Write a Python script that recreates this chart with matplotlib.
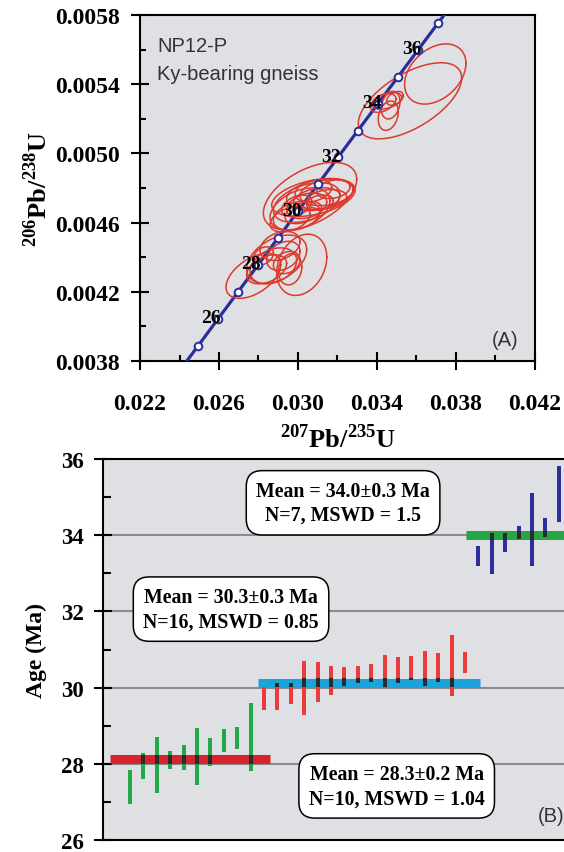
import numpy as np
import matplotlib
matplotlib.use("Agg")
import matplotlib.pyplot as plt
from matplotlib.ticker import FixedLocator

plt.rcParams['mathtext.fontset'] = 'custom'
plt.rcParams['mathtext.rm'] = 'Liberation Serif'
plt.rcParams['mathtext.bf'] = 'Liberation Serif:bold'

SERIF = 'Liberation Serif'
SANS = 'Liberation Sans'

# ---------------- Data: panel A (concordia) ----------------
concordia_marker_ages = [25, 26, 27, 28, 29, 30, 31, 32, 33, 34, 35, 36, 37]
concordia_label_ages = [26, 28, 30, 32, 34, 36]
LAMBDA_238 = 1.55125e-10
LAMBDA_235 = 9.8485e-10

xA_major = [0.022, 0.026, 0.030, 0.034, 0.038, 0.042]
xA_minor = [0.024, 0.028, 0.032, 0.036, 0.040]
yA_major = [0.0038, 0.0042, 0.0046, 0.0050, 0.0054, 0.0058]
yA_minor = [0.0040, 0.0044, 0.0048, 0.0052, 0.0056]

# ellipses: centre (207/235, 206/238), half-extent in x and y, correlation
ell_x = [0.03567, 0.03695, 0.03449, 0.03469, 0.03457, 0.03432, 0.03491,
         0.03061, 0.03078, 0.03111, 0.03044, 0.03010, 0.03145, 0.02993, 0.03095,
         0.03044, 0.02960, 0.03145, 0.03078, 0.03027, 0.03179, 0.02993, 0.03111,
         0.03019, 0.02774, 0.02892, 0.02875, 0.02926, 0.02943, 0.02841, 0.02825,
         0.02909, 0.02960]
ell_y = [0.005304, 0.005459, 0.005304, 0.005279, 0.005218, 0.005291, 0.005318,
         0.004753, 0.004745, 0.004764, 0.004716, 0.004678, 0.004774, 0.004639, 0.004735,
         0.004697, 0.004620, 0.004735, 0.004784, 0.004658, 0.004793, 0.004697, 0.004716,
         0.004356, 0.004292, 0.004388, 0.004350, 0.004408, 0.004369, 0.004330, 0.004408,
         0.004465, 0.004330]
ell_sx = [0.002616, 0.001553, 0.000760, 0.000473, 0.000506, 0.000641, 0.000422,
          0.002363, 0.002110, 0.001688, 0.001688, 0.001519, 0.001350, 0.001181, 0.001181,
          0.001013, 0.001013, 0.001013, 0.000928, 0.000928, 0.000844, 0.000760, 0.000675,
          0.001266, 0.001384, 0.001519, 0.001181, 0.000844, 0.000675, 0.001013, 0.000506,
          0.001013, 0.000591]
ell_sy = [0.000220, 0.000174, 0.0000480, 0.0000800, 0.000085, 0.0000540, 0.0000400,
          0.000195, 0.000110, 0.0000880, 0.000115, 0.000122, 0.0000760, 0.0000840, 0.0000660,
          0.0000740, 0.0000740, 0.0000560, 0.0000640, 0.0000640, 0.0000540, 0.0000620, 0.0000440,
          0.000177, 0.000130, 0.000140, 0.000104, 0.0000840, 0.0000640, 0.0000840, 0.0000520,
          0.0000840, 0.0000900]
ell_rho = [0.6, 0.35, 0.4, 0.25, 0.25, 0.45, 0.4,
           0.5, 0.4, 0.3, 0.4, 0.4, 0.25, 0.3, 0.3,
           0.3, 0.4, 0.25, 0.3, 0.4, 0.25, 0.4, 0.25,
           0.25, 0.5, 0.4, 0.3, 0.3, 0.25, 0.4, 0.3,
           0.3, 0.15]

# ---------------- Data: panel B (weighted mean ages) ----------------
green_lo = [26.94, 27.59, 27.24, 27.86, 27.84, 27.44, 27.94, 28.31, 28.38, 27.80]
green_hi = [27.84, 28.29, 28.71, 28.34, 28.49, 28.95, 28.68, 28.91, 28.97, 29.59]
red_lo = [29.42, 29.42, 29.56, 29.27, 29.63, 29.81, 30.05, 30.11, 30.15, 29.98,
          30.13, 30.19, 30.05, 30.15, 29.77, 30.38]
red_hi = [30.01, 30.13, 30.11, 30.70, 30.66, 30.57, 30.55, 30.56, 30.63, 30.85,
          30.81, 30.83, 30.97, 30.90, 31.38, 30.94]
blue_lo = [33.20, 32.99, 33.57, 33.90, 33.20, 33.94, 34.34]
blue_hi = [33.71, 34.07, 34.07, 34.23, 35.10, 34.45, 35.82]

mean_ages = [28.12, 30.13, 34.0]
mean_start = [-0.5, 10.55, 26.07]
mean_end = [11.45, 27.1, 36.0]
mean_texts = ["Mean = 28.3\u00b10.2 Ma\nN=10, MSWD = 1.04",
              "Mean = 30.3\u00b10.3 Ma\nN=16, MSWD = 0.85",
              "Mean = 34.0\u00b10.3 Ma\nN=7, MSWD = 1.5"]
yB_major = [26, 28, 30, 32, 34, 36]
yB_minor = [27, 29, 31, 33, 35]
yB_grid = [28, 30, 32, 34]

BG = '#dfe0e4'
ELL_C = '#dc3a2c'
CONC_C = '#2a2e9c'

fig = plt.figure(figsize=(5.64, 8.53), dpi=100)

# ================= Panel A =================
axA = fig.add_axes([140/564, 1-362/853, 395/564, 346/853])
axA.set_facecolor(BG)
axA.set_xlim(0.022, 0.042)
axA.set_ylim(0.0038, 0.0058)

t = np.linspace(24.0, 38.5, 300) * 1e6
axA.plot(np.exp(LAMBDA_235*t)-1, np.exp(LAMBDA_238*t)-1, color=CONC_C, lw=2.3, zorder=3)
ma = np.array(concordia_marker_ages) * 1e6
axA.plot(np.exp(LAMBDA_235*ma)-1, np.exp(LAMBDA_238*ma)-1, 'o', ms=5.5,
         mfc='white', mec=CONC_C, mew=1.4, zorder=5)

for cx, cy, sx, sy, r in zip(ell_x, ell_y, ell_sx, ell_sy, ell_rho):
    th = np.linspace(0, 2*np.pi, 200)
    ex = cx + sx*np.cos(th)
    ey = cy + sy*(r*np.cos(th) + np.sqrt(1-r*r)*np.sin(th))
    axA.plot(ex, ey, color=ELL_C, lw=1.1, zorder=4)

for a in concordia_label_ages:
    xx = np.exp(LAMBDA_235*a*1e6)-1
    yy = np.exp(LAMBDA_238*a*1e6)-1
    axA.annotate(str(a), (xx, yy), xytext=(2.5, 1), textcoords='offset points',
                 ha='right', va='center', fontsize=14, fontweight='bold',
                 family=SERIF, zorder=6)

axA.text(0.02288, 0.005623, "NP12-P", family=SANS, fontsize=14.5, color='#333333', va='center')
axA.text(0.02288, 0.005464, "Ky-bearing gneiss", family=SANS, fontsize=14.5, color='#333333', va='center')
axA.text(0.03981, 0.003925, "(A)", family=SANS, fontsize=14.5, color='#333333', va='center')

axA.xaxis.set_major_locator(FixedLocator(xA_major))
axA.xaxis.set_minor_locator(FixedLocator(xA_minor))
axA.yaxis.set_major_locator(FixedLocator(yA_major))
axA.yaxis.set_minor_locator(FixedLocator(yA_minor))
axA.xaxis.set_major_formatter(plt.FuncFormatter(lambda v, p: f"{v:.3f}"))
axA.yaxis.set_major_formatter(plt.FuncFormatter(lambda v, p: f"{v:.4f}"))
axA.tick_params(which='major', direction='inout', length=12.5, width=1.5)
axA.tick_params(which='minor', direction='in', length=4.5, width=1.5)
for lab in axA.get_xticklabels() + axA.get_yticklabels():
    lab.set_family(SERIF); lab.set_fontweight('bold'); lab.set_fontsize(17)
axA.tick_params(axis='x', pad=17)
axA.tick_params(axis='y', pad=8)
for s in axA.spines.values():
    s.set_linewidth(1.5)
axA.set_xlabel(r'$^{\mathbf{207}}\mathbf{Pb/}^{\mathbf{235}}\mathbf{U}$', fontsize=19, labelpad=7)
axA.set_ylabel(r'$^{\mathbf{206}}\mathbf{Pb/}^{\mathbf{238}}\mathbf{U}$', fontsize=19, labelpad=2)

# ================= Panel B =================
axB = fig.add_axes([103/564, 1-841/853, 477/564, 381/853])
axB.set_facecolor(BG)
axB.set_xlim(-1.015, 34.58)
axB.set_ylim(26, 36)
for g in yB_grid:
    axB.axhline(g, color='#8a8c90', lw=1.5, zorder=1)

groups = [(green_lo, green_hi, '#23a84a'), (red_lo, red_hi, '#ec3b3b'), (blue_lo, blue_hi, '#2c2f9c')]
line_cols = ['#d8232d', '#1ba3dd', '#27a348']
BAR_W = 0.3
HALF = 0.12
xpos = 1
for gi, (lo, hi, col) in enumerate(groups):
    m = mean_ages[gi]
    axB.plot([mean_start[gi], mean_end[gi]], [m, m], color=line_cols[gi], lw=6.5,
             solid_capstyle='butt', zorder=2)
    for l, h in zip(lo, hi):
        axB.bar(xpos, h-l, bottom=l, width=BAR_W, color=col, zorder=3)
        a0, a1 = max(l, m-HALF), min(h, m+HALF)
        if a1 > a0 and mean_start[gi] <= xpos <= mean_end[gi]:
            axB.bar(xpos, a1-a0, bottom=a0, width=BAR_W, color='#2e2a2a', zorder=4)
        xpos += 1

box = dict(boxstyle='round,pad=0.5,rounding_size=0.8', fc='white', ec='black', lw=1.1)
text_pos = [(20.9, 27.42), (8.54, 32.06), (16.9, 34.85)]
for (tx, ty), s in zip(text_pos, mean_texts):
    axB.text(tx, ty, s, ha='center', va='center', family=SERIF, fontweight='bold',
             fontsize=14.3, linespacing=1.3, bbox=box, zorder=6)
axB.text(31.4, 26.63, "(B)", family=SANS, fontsize=14.5, color='#333333', va='center')

axB.yaxis.set_major_locator(FixedLocator(yB_major))
axB.yaxis.set_minor_locator(FixedLocator(yB_minor))
axB.set_xticks([])
axB.tick_params(axis='y', which='major', direction='inout', length=13, width=1.5, pad=7)
axB.tick_params(axis='y', which='minor', direction='in', length=5.5, width=1.5)
for lab in axB.get_yticklabels():
    lab.set_family(SERIF); lab.set_fontweight('bold'); lab.set_fontsize(16.5)
for s in axB.spines.values():
    s.set_linewidth(1.5)
axB.spines['right'].set_visible(False)
axB.set_ylabel("Age (Ma)", family=SERIF, fontweight='bold', fontsize=17, labelpad=10)

fig.savefig("out.png", dpi=100)
